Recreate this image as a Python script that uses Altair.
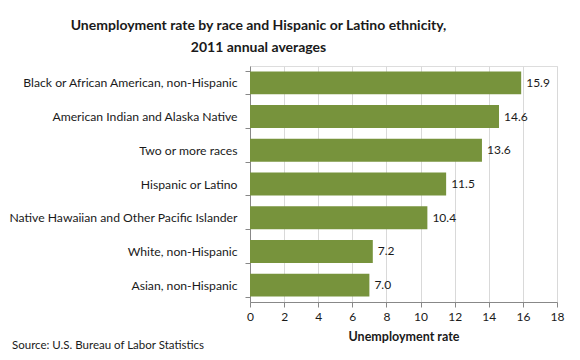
import altair as alt
import pandas as pd

categories = [
    "Black or African American, non-Hispanic",
    "American Indian and Alaska Native",
    "Two or more races",
    "Hispanic or Latino",
    "Native Hawaiian and Other Pacific Islander",
    "White, non-Hispanic",
    "Asian, non-Hispanic",
]
rates = [15.9, 14.6, 13.6, 11.5, 10.4, 7.2, 7.0]
ticks = [0, 2, 4, 6, 8, 10, 12, 14, 16, 18]

df = pd.DataFrame({"group": categories, "rate": rates})

FONT = "Lato"
TXT = "#1a1a1a"

xenc = alt.X("rate:Q", scale=alt.Scale(domain=[0, 18]), title="Unemployment rate",
             axis=alt.Axis(values=ticks, tickSize=5, labelFontSize=12,
                           labelFont=FONT, labelColor=TXT, titleFont=FONT, titleFontSize=12.5,
                           titleFontWeight="bold", titleColor=TXT, labelPadding=4,
                           titlePadding=8, domainColor="#888888", tickColor="#888888",
                           gridColor="#D9D9D9", labelFlush=False, labelOverlap=False))

base = alt.Chart(df).encode(
    x=xenc,
    y=alt.Y("group:N", sort=categories, title=None,
            scale=alt.Scale(paddingInner=0.32, paddingOuter=0.16),
            axis=alt.Axis(tickBand="extent", labelFontSize=12.2, labelFont=FONT,
                          labelColor=TXT, labelPadding=8, tickSize=5,
                          domainColor="#888888", tickColor="#888888", labelLimit=300)),
)

bars = base.mark_bar(color="#77933C")

labels = base.mark_text(align="left", dx=5, fontSize=12, font=FONT, color=TXT).encode(
    text=alt.Text("rate:Q", format=".1f"),
)

source = alt.Chart(pd.DataFrame({"t": ["Source: U.S. Bureau of Labor Statistics"]})).mark_text(
    align="left", baseline="alphabetic", fontSize=11.5, font=FONT, color=TXT
).encode(x=alt.value(-238), y=alt.value(283), text="t:N")

chart = alt.layer(bars, labels, source).properties(
    width=307, height=236,
    autosize=alt.AutoSizeParams(type="none"),
    padding={"left": 242, "top": 58, "right": 15, "bottom": 50},
    title=alt.TitleParams(
        ["Unemployment rate by race and Hispanic or Latino ethnicity,", "2011 annual averages"],
        font=FONT, fontSize=14, fontWeight="bold", color=TXT, anchor="middle",
        dx=-145, offset=5, lineHeight=22,
    ),
).configure_view(stroke=None).configure(background="white")

chart.save("out.html", embed_options={"renderer": "svg", "actions": False})
